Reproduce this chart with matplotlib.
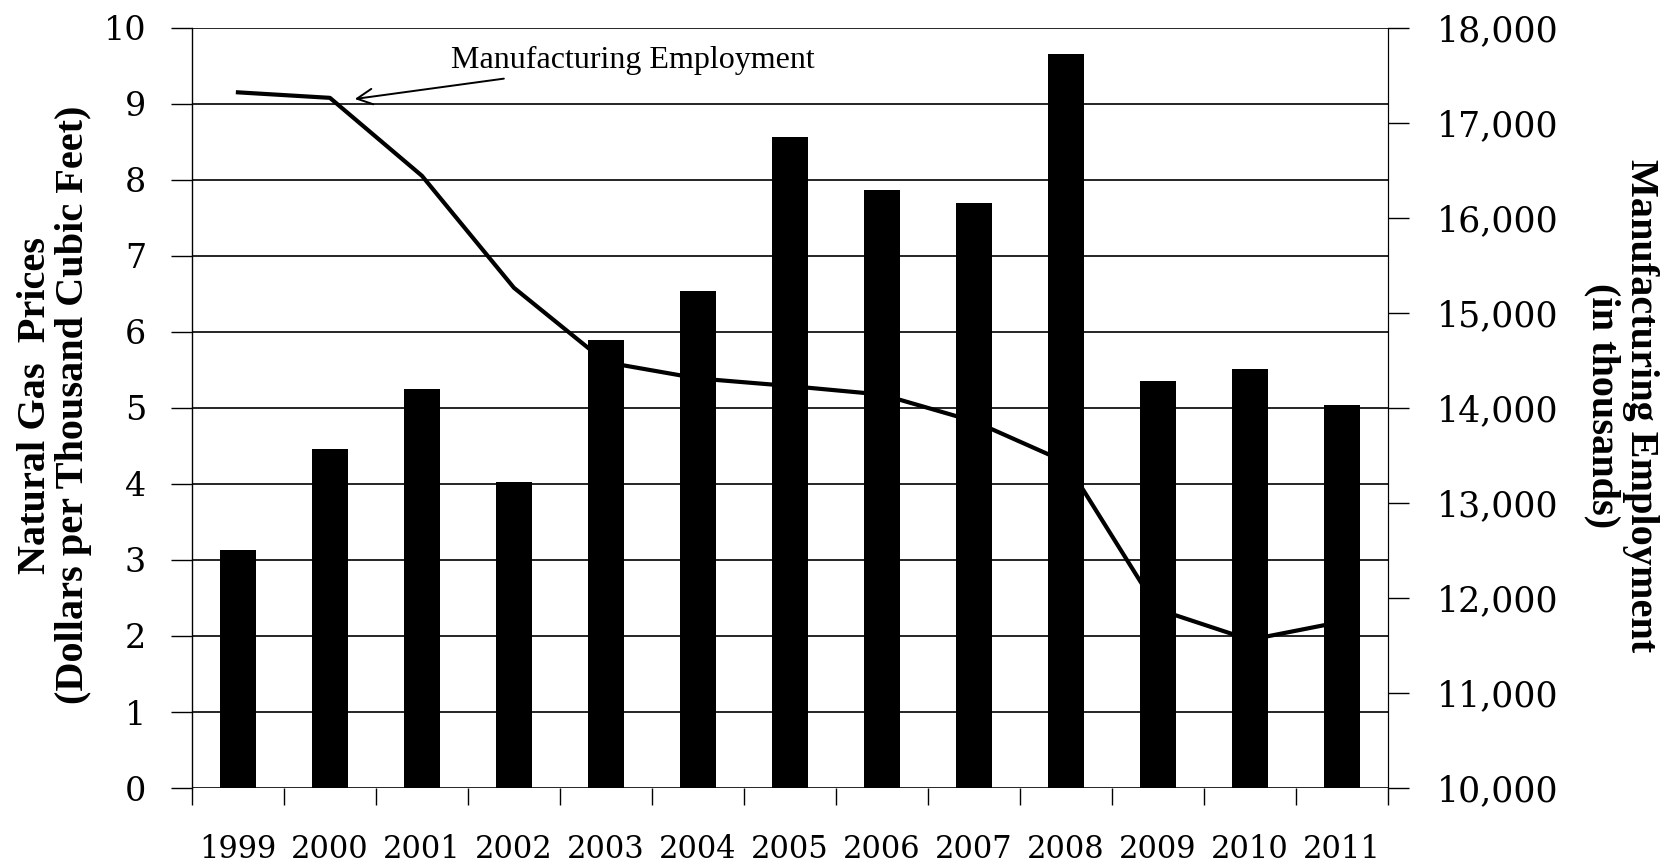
import matplotlib
matplotlib.use("Agg")
import matplotlib.pyplot as plt
import numpy as np

# Data
years = ["1999", "2000", "2001", "2002", "2003", "2004", "2005",
         "2006", "2007", "2008", "2009", "2010", "2011"]
gas_price = [3.13, 4.46, 5.25, 4.03, 5.89, 6.54, 8.56, 7.87, 7.69, 9.65, 5.36, 5.51, 5.04]
employment = [17320, 17262, 16442, 15264, 14480, 14310, 14230, 14140, 13860, 13430, 11880, 11560, 11750]

plt.rcParams["font.family"] = ["Liberation Serif", "DejaVu Serif"]
tick_font = "DejaVu Serif"

fig = plt.figure(figsize=(16.72, 8.66), dpi=100)
ax = fig.add_axes([0.1148, 0.090, 0.7152, 0.878])
x = np.arange(len(years))

ax.bar(x, gas_price, width=0.39, color="black", zorder=3)
ax.set_xlim(-0.5, len(years) - 0.5)
ax.set_ylim(0, 10)
ax.set_yticks(range(0, 11))
ax.yaxis.grid(True, color="black", linewidth=1.2, zorder=0)
ax.set_axisbelow(True)

# ticks at category boundaries, labels at centers
ax.set_xticks(np.arange(-0.5, len(years)), minor=False)
ax.set_xticklabels([])
ax.set_xticks(x, minor=True)
ax.set_xticklabels(years, minor=True, fontsize=22, family=tick_font)
ax.tick_params(axis="x", which="major", length=12, width=1, direction="out")
ax.tick_params(axis="x", which="minor", length=0, pad=33)
ax.tick_params(axis="y", length=15, width=1, labelsize=24, pad=18)
for lab in ax.get_yticklabels():
    lab.set_family(tick_font)

ax.spines["top"].set_visible(False)
ax.spines["bottom"].set_visible(False)
ax.spines["left"].set_linewidth(1)

ax2 = ax.twinx()
ax2.plot(x, employment, color="black", linewidth=3.0, zorder=5)
ax2.set_ylim(10000, 18000)
ax2.set_yticks(range(10000, 18001, 1000))
ax2.set_yticklabels([f"{v:,}" for v in range(10000, 18001, 1000)], family=tick_font)
ax2.tick_params(axis="y", length=15, width=1, labelsize=25, pad=20)
ax2.spines["top"].set_visible(False)
ax2.spines["bottom"].set_visible(False)
ax2.spines["left"].set_visible(False)

# axis titles
fig.text(0.0325, 0.532, "Natural Gas  Prices\n(Dollars per Thousand Cubic Feet)",
         rotation=90, ha="center", va="center", multialignment="center",
         fontsize=29, fontweight="bold", linespacing=1.05)
fig.text(0.9694, 0.532, "Manufacturing Employment\n(in thousands)",
         rotation=270, ha="center", va="center", multialignment="center",
         fontsize=29, fontweight="bold", linespacing=1.05)

ax2.annotate("Manufacturing Employment", xy=(1.27, 17250),
             xytext=(2.32, 17650), fontsize=23, va="center", ha="left",
             arrowprops=dict(arrowstyle="->", color="black", lw=1.4,
                             shrinkA=2, shrinkB=0, mutation_scale=28))

fig.savefig("out.png", dpi=100)
